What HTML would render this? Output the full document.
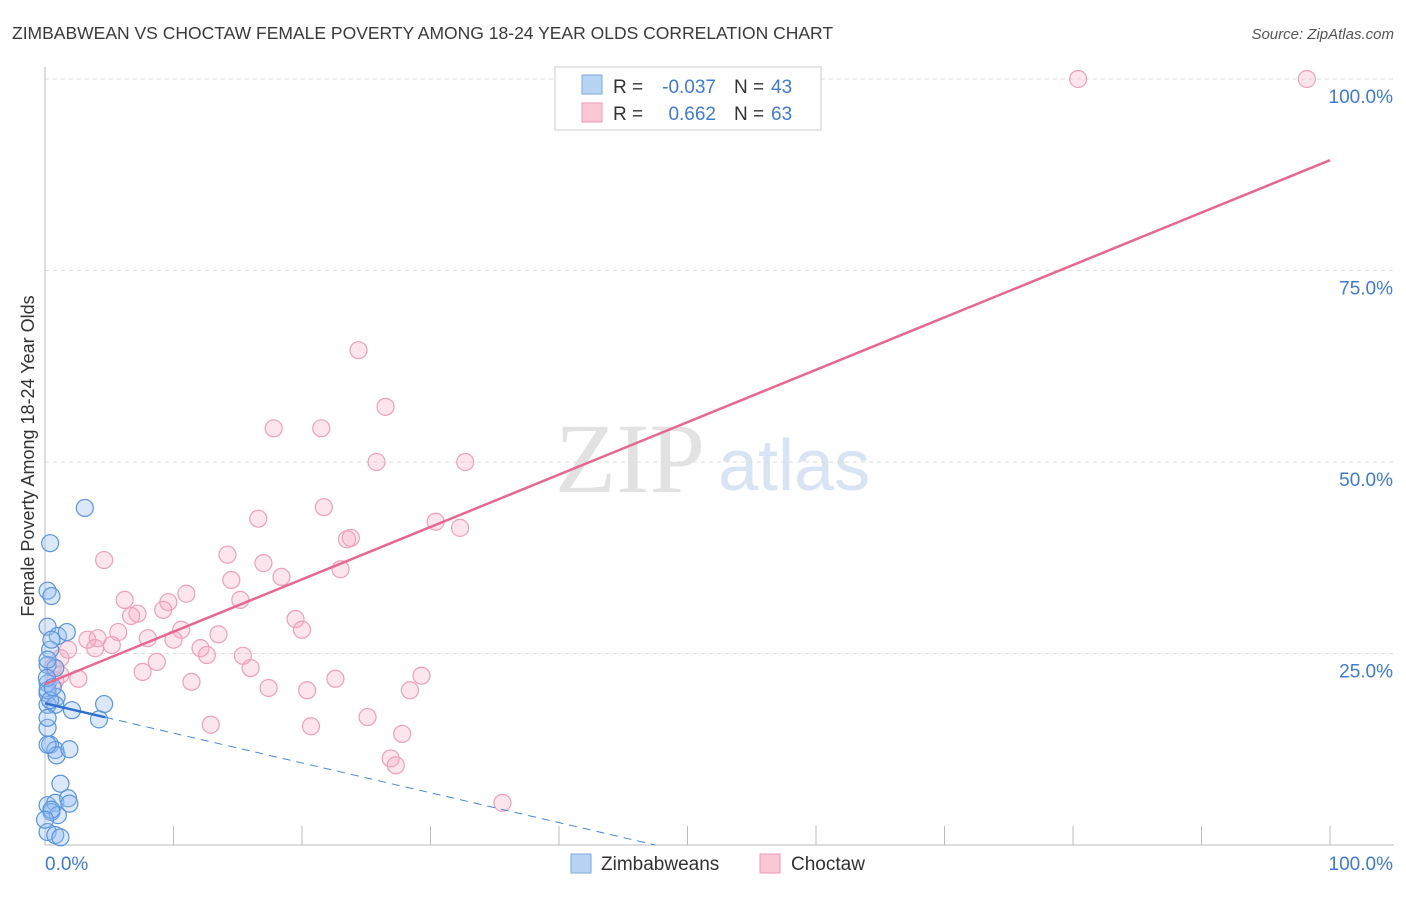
<!DOCTYPE html>
<html><head><meta charset="utf-8"><style>
body{margin:0;background:#fff;font-family:"Liberation Sans",sans-serif}
#c{position:relative;width:1406px;height:892px}
</style></head><body>
<div id="c">
<svg id="s" width="1406" height="892" xmlns="http://www.w3.org/2000/svg">
<text x="12" y="39" font-size="17.5" fill="#3a3a3a">ZIMBABWEAN VS CHOCTAW FEMALE POVERTY AMONG 18-24 YEAR OLDS CORRELATION CHART</text>
<text x="1394" y="39" font-size="15" fill="#555" font-style="italic" text-anchor="end">Source: ZipAtlas.com</text>
<text x="34" y="456" font-size="18" fill="#333" text-anchor="middle" transform="rotate(-90 34 456)">Female Poverty Among 18-24 Year Olds</text>
<text x="555" y="492" font-size="100" fill="#e2e2e2" font-family="Liberation Serif,serif">ZIP</text>
<text x="718" y="490" font-size="72" fill="#d8e4f4">atlas</text>
<g id="grid"></g><g id="pts"></g><g id="lines"></g>
<g>
<rect x="555" y="67" width="266" height="63" fill="#fff" stroke="#ccc"/>
<rect x="582" y="75" width="20" height="19" fill="#b8d4f5" stroke="#7aa9e0"/>
<rect x="582" y="103" width="20" height="19" fill="#fbc7d6" stroke="#ee9ab4"/>
<text x="613" y="93" font-size="19" fill="#333">R =</text>
<text x="716" y="93" font-size="19" fill="#3e7bd6" text-anchor="end">-0.037</text>
<text x="734" y="93" font-size="19" fill="#333">N =</text>
<text x="771" y="93" font-size="19" fill="#3e7bd6">43</text>
<text x="613" y="120" font-size="19" fill="#333">R =</text>
<text x="716" y="120" font-size="19" fill="#3e7bd6" text-anchor="end">0.662</text>
<text x="734" y="120" font-size="19" fill="#333">N =</text>
<text x="771" y="120" font-size="19" fill="#3e7bd6">63</text>
</g>
<g>
<rect x="571" y="854" width="20" height="19" fill="#b8d4f5" stroke="#7aa9e0"/>
<text x="601" y="870" font-size="19" fill="#333">Zimbabweans</text>
<rect x="760" y="854" width="20" height="19" fill="#fbc7d6" stroke="#ee9ab4"/>
<text x="791" y="870" font-size="19" fill="#333">Choctaw</text>
</g>
<text x="45" y="870" font-size="19" fill="#3e7bd6">0.0%</text>
<text x="1393" y="870" font-size="19" fill="#3e7bd6" text-anchor="end">100.0%</text>
</svg></div>
<script>
const blueX=[3.1,0.4,0.2,0.5,0.2,1.0,1.7,0.4,0.2,0.8,0.2,0.2,0.9,0.2,0.8,2.1,4.6,4.2,0.2,0.4,0.8,0.9,1.9,1.2,0.2,0.8,1.8,1.9,0.5,1.0,0.2,0.8,1.2,0.2,0.2,0.5,0.2,0.15,0.4,0.6,0.2,0.5,0];
const blueY=[44.0,39.4,33.2,32.5,28.5,27.3,27.8,25.5,23.5,23.1,21.1,19.8,19.3,18.3,18.3,17.6,18.4,16.4,15.3,13.1,12.4,11.7,12.5,8.0,5.2,5.5,6.1,5.4,4.3,3.9,1.7,1.3,1.0,20.2,24.2,26.8,16.6,21.8,18.9,20.6,13.1,4.6,3.3];
const pinkX=[80.4,98.2,24.4,26.5,17.8,21.5,25.8,32.7,21.7,16.6,30.4,32.3,23.5,23.8,14.2,4.6,17.0,23.0,14.5,18.4,11.0,6.2,15.2,9.6,7.2,9.2,6.7,19.5,20.0,10.6,5.7,13.5,8.0,10.0,3.3,4.1,12.1,5.2,3.9,1.8,12.6,15.4,1.2,8.7,16.0,7.6,0.6,29.3,22.6,2.6,11.4,17.4,20.4,28.4,0.8,12.9,20.7,25.1,27.8,26.9,27.3,35.6,1.2];
const pinkY=[100,100,64.6,57.2,54.4,54.4,50.0,50.0,44.1,42.6,42.2,41.4,39.9,40.1,37.9,37.2,36.8,36.0,34.6,35.0,32.8,32.0,32.0,31.7,30.2,30.7,29.9,29.5,28.1,28.1,27.8,27.5,27.0,26.8,26.8,27.0,25.7,26.1,25.7,25.5,24.8,24.7,24.4,23.9,23.1,22.6,23.2,22.1,21.7,21.7,21.3,20.5,20.2,20.2,21.5,15.7,15.5,16.7,14.5,11.3,10.4,5.5,22.2];
const yTicks=[25,50,75,100];
const pinkTrend=[[0,21],[100,89.4]];
const blueTrend=[[0,18.5],[47.5,0]];
const X=v=>45+v*12.85, Y=v=>845-v*7.66;
const NS="http://www.w3.org/2000/svg";
function mk(t,a,p){const e=document.createElementNS(NS,t);for(const k in a)e.setAttribute(k,a[k]);p.appendChild(e);return e;}
const g=document.getElementById('grid');
yTicks.forEach(t=>{const l=mk('line',{x1:45,x2:1394,y1:Y(t),y2:Y(t),stroke:'#ddd','stroke-dasharray':'4,4'},g);


const tx=mk('text',{x:1393,y:Y(t)+24,'font-size':19,fill:'#3e7bd6','text-anchor':'end'},g);tx.textContent=t.toFixed(1)+'%';

});
mk('line',{x1:45,x2:45,y1:67,y2:845,stroke:'#bbb'},g);
mk('line',{x1:45,x2:1394,y1:845,y2:845,stroke:'#bbb'},g);
for(let i=1;i<=10;i++){mk('line',{x1:X(i*10),x2:X(i*10),y1:826,y2:845,stroke:'#bbb'},g);}
const p=document.getElementById('pts');
pinkX.forEach((v,i)=>{const c=mk('circle',{cx:X(v),cy:Y(pinkY[i]),r:8.5,fill:'rgba(248,170,195,0.3)',stroke:'#eea0b8','stroke-width':1.2},p);

});
blueX.forEach((v,i)=>{const c=mk('circle',{cx:X(v),cy:Y(blueY[i]),r:8.5,fill:'rgba(150,190,240,0.35)',stroke:'#5a94dc','stroke-width':1.2},p);

});
const L=document.getElementById('lines');
const pl=mk('line',{x1:X(pinkTrend[0][0]),y1:Y(pinkTrend[0][1]),x2:X(pinkTrend[1][0]),y2:Y(pinkTrend[1][1]),stroke:'#e8678f','stroke-width':2.5},L);


const bs=blueTrend[0][1]+(blueTrend[1][1]-blueTrend[0][1])*(4.7/blueTrend[1][0]);
const bl=mk('line',{x1:X(blueTrend[0][0]),y1:Y(blueTrend[0][1]),x2:X(4.7),y2:Y(bs),stroke:'#2f6fd0','stroke-width':2.5},L);


const bd=mk('line',{x1:X(4.7),y1:Y(bs),x2:X(blueTrend[1][0]),y2:Y(blueTrend[1][1]),stroke:'#4a86d8','stroke-width':1,'stroke-dasharray':'8,6'},L);


</script>
</body></html>
